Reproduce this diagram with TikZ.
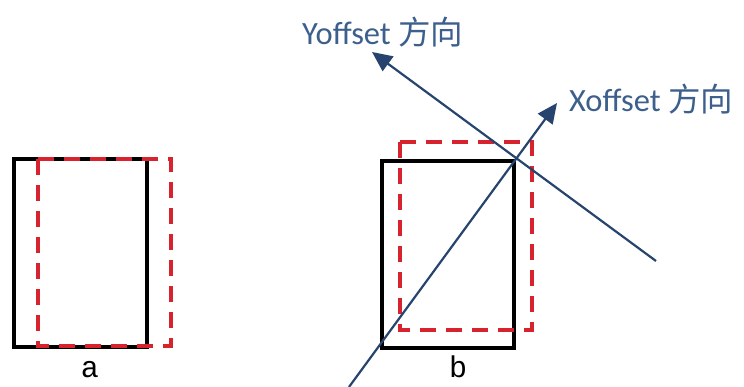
\documentclass[tikz,border=0pt]{standalone}
\usepackage{fontspec}
\setmainfont{Carlito}
\newfontfamily\cjkfont{Noto Sans CJK SC}
\newfontfamily\monofont{Liberation Mono}
\usetikzlibrary{arrows.meta}
\definecolor{axisline}{RGB}{38,68,110}
\definecolor{axistext}{RGB}{60,95,140}
\definecolor{dashred}{RGB}{215,35,45}
\tikzset{
  blackbox/.style={draw=black, line width=3.6pt},
  redbox/.style={draw=dashred, line width=3.6pt, dash pattern=on 16pt off 10pt},
  axis/.style={draw=axisline, line width=2.2pt, -{Triangle[length=20pt,width=18pt]}},
  axislabel/.style={text=axistext, font=\fontsize{32.5}{36}\selectfont, inner sep=0pt, anchor=west},
  letter/.style={font=\monofont\fontsize{30}{32}\selectfont, inner sep=0pt}
}
\begin{document}
\begin{tikzpicture}[x=1pt,y=-1pt]
\useasboundingbox (0,0) rectangle (744,387);
% a
\draw[blackbox] (14,159) rectangle (147,347);
\draw[redbox] (38,159) rectangle (171,346);
\node[letter] (la) at (90,370) {a};
% b
\draw[blackbox] (382,161) rectangle (514,348);
\draw[redbox] (400,142) rectangle (532,330);
\node[letter] (lb) at (458,367) {b};
% axes
\coordinate (xs) at (349,387);
\coordinate (xt) at (557,103);
\coordinate (ys) at (656,261);
\coordinate (yt) at (372,52);
\draw[axis] (xs) -- (xt);
\draw[axis] (ys) -- (yt);
\node[axislabel] (ylab) at (302,32) {Yoffset {\cjkfont 方向}};
\node[axislabel] (xlab) at (569,99) {Xoffset {\cjkfont 方向}};
\end{tikzpicture}
\end{document}
